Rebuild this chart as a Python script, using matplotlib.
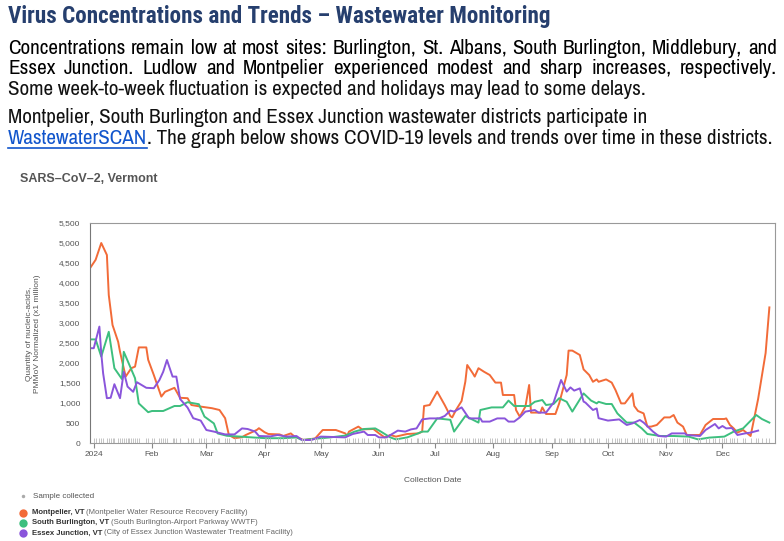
import numpy as np
import matplotlib
matplotlib.use('Agg')
import matplotlib.pyplot as plt
import matplotlib.dates as mdates
from matplotlib.ticker import FuncFormatter, MultipleLocator
from matplotlib.transforms import blended_transform_factory

plt.rcParams['font.family'] = ['Liberation Sans', 'DejaVu Sans']
NARROW = ['Archivo Narrow', 'Liberation Sans', 'DejaVu Sans']
HEAVY = ['Roboto Condensed', 'Archivo Narrow', 'DejaVu Sans']

# Samples: days since 2024-01-01 and concentration (PMMoV normalized, x1 million)
MONT_DAYS = [-2, 1, 4, 7, 8, 10, 13, 14, 17, 20,
             22, 24, 28, 29, 32, 36, 38, 43, 46, 50,
             52, 57, 63, 67, 70, 72, 75, 79, 81, 87,
             88, 91, 93, 99, 101, 105, 107, 112, 118, 122,
             129, 134, 135, 136, 141, 143, 149, 152, 155, 158,
             161, 167, 173, 175, 176, 179, 183, 187, 190, 191,
             193, 196, 198, 199, 202, 203, 205, 208, 211, 214,
             217, 218, 224, 225, 227, 230, 232, 233, 238, 239,
             241, 246, 248, 252, 253, 255, 259, 261, 264, 266,
             268, 269, 273, 276, 278, 281, 283, 287, 288, 290,
             293, 295, 297, 300, 304, 307, 309, 311, 314, 316,
             323, 326, 330, 336, 337, 339, 341, 343, 346, 350,
             354, 358, 360]
MONT_VALS = [4370, 4580, 5000, 4700, 3700, 2950, 2530, 2280, 1660, 1870,
             1910, 2390, 2390, 2080, 1700, 1160, 1280, 1380, 1130, 1120,
             950, 910, 870, 825, 620, 200, 120, 145, 200, 330,
             370, 270, 225, 215, 175, 240, 160, 75, 115, 325,
             325, 240, 175, 285, 410, 340, 350, 240, 140, 200,
             160, 225, 240, 285, 925, 950, 1285, 950, 675, 640,
             825, 1050, 1535, 1950, 1740, 1660, 1870, 1780, 1700, 1510,
             1510, 1200, 1200, 825, 660, 910, 1450, 760, 760, 890,
             725, 725, 990, 1700, 2310, 2310, 2200, 1840, 1700, 1530,
             1590, 1530, 1590, 1510, 1325, 990, 990, 1240, 925, 800,
             740, 410, 410, 450, 640, 640, 700, 510, 410, 200,
             200, 450, 600, 600, 615, 450, 365, 260, 325, 175,
             1100, 2250, 3390]

SBUR_DAYS = [-2, 1, 4, 8, 11, 15, 16, 19, 22, 24,
             29, 31, 37, 43, 46, 50, 56, 59, 64, 66,
             71, 78, 86, 92, 101, 108, 111, 119, 126, 134,
             139, 144, 150, 153, 158, 161, 167, 172, 175, 178,
             183, 188, 190, 192, 198, 205, 206, 212, 218, 221,
             224, 232, 235, 239, 241, 245, 248, 252, 255, 261,
             265, 268, 269, 273, 276, 279, 284, 288, 292, 295,
             302, 309, 317, 322, 328, 336, 341, 346, 353, 356,
             360]
SBUR_VALS = [2590, 2590, 2160, 2780, 1870, 1600, 2280, 1950, 1620, 990,
             770, 800, 800, 925, 925, 1020, 970, 660, 490, 240,
             180, 160, 135, 120, 120, 140, 75, 110, 140, 185,
             285, 350, 365, 285, 140, 90, 140, 225, 285, 285,
             615, 590, 580, 285, 675, 510, 825, 890, 890, 1060,
             925, 925, 1030, 1075, 950, 975, 1120, 1030, 785, 1240,
             1060, 990, 1030, 975, 975, 740, 510, 510, 365, 225,
             175, 175, 160, 90, 135, 160, 285, 365, 700, 600,
             510]

ESSX_DAYS = [-2, 0, 3, 4, 5, 7, 9, 11, 14, 16,
             18, 21, 23, 28, 32, 35, 37, 39, 42, 44,
             46, 50, 53, 57, 60, 64, 70, 75, 79, 82,
             86, 88, 94, 98, 103, 108, 111, 116, 121, 134,
             138, 144, 146, 150, 152, 156, 162, 166, 169, 172,
             175, 179, 184, 187, 190, 192, 196, 200, 206, 207,
             211, 215, 219, 221, 224, 227, 230, 235, 237, 241,
             245, 249, 252, 254, 256, 259, 261, 262, 266, 268,
             269, 274, 280, 284, 287, 291, 293, 298, 301, 305,
             308, 315, 316, 323, 326, 331, 333, 335, 337, 340,
             343, 347, 350, 354]
ESSX_VALS = [2370, 2370, 2910, 2240, 1740, 1120, 1130, 1470, 1120, 1780,
             1410, 1280, 1520, 1380, 1370, 1575, 1780, 2075, 1660, 1660,
             1100, 885, 620, 560, 325, 285, 215, 215, 365, 350,
             285, 175, 165, 200, 160, 175, 75, 75, 160, 140,
             225, 285, 200, 200, 140, 140, 310, 285, 340, 365,
             590, 615, 615, 675, 810, 785, 890, 615, 615, 535,
             535, 615, 615, 535, 535, 640, 785, 825, 760, 760,
             1010, 1575, 1285, 1390, 1310, 1365, 1035, 1010, 825, 865,
             620, 560, 590, 450, 490, 575, 510, 285, 175, 160,
             240, 240, 200, 175, 325, 475, 365, 425, 365, 375,
             200, 240, 260, 310]

SITES = ['Montpelier, VT', 'South Burlington, VT', 'Essex Junction, VT']
FACILITIES = ['(Montpelier Water Resource Recovery Facility)',
              '(South Burlington-Airport Parkway WWTF)',
              '(City of Essex Junction Wastewater Treatment Facility)']
COLORS = ['#F26B38', '#3DBF7E', '#8A55DB']

TITLE = 'Virus Concentrations and Trends \u2013 Wastewater Monitoring'
LINE1 = 'Concentrations remain low at most sites: Burlington, St. Albans, South Burlington, Middlebury,  and'
LINE2 = 'Essex Junction. Ludlow and Montpelier experienced modest and sharp increases, respectively.'
LINE3 = 'Some week-to-week fluctuation is expected and holidays may lead to some delays.'
LINE4 = 'Montpelier, South Burlington and Essex Junction wastewater districts participate in'
LINK = 'WastewaterSCAN'
LINE5 = '. The graph below shows COVID-19 levels and trends over time in these districts.'

START = np.datetime64('2024-01-01')


def to_dates(days):
    return START + np.array(days).astype('timedelta64[D]')


fig = plt.figure(figsize=(7.84, 5.41), dpi=100)
# pixel-coordinate canvas for the text blocks
canvas = fig.add_axes([0, 0, 1, 1])
canvas.set_xlim(0, 784)
canvas.set_ylim(541, 0)
canvas.axis('off')
renderer = fig.canvas.get_renderer()


def width_px(t):
    return t.get_window_extent(renderer).width


def fit_text(x, y, s, target, **kw):
    t = canvas.text(x, y, s, **kw)
    t.set_fontsize(t.get_fontsize() * target / width_px(t))
    return t


def justify(y, s, x0, x1, size, **kw):
    words = s.split()
    texts = [canvas.text(0, y, w, fontsize=size, **kw) for w in words]
    widths = [width_px(t) for t in texts]
    gap = (x1 - x0 - sum(widths)) / (len(words) - 1)
    x = x0
    for t, w in zip(texts, widths):
        t.set_x(x)
        x += w + gap


# heading block
fit_text(8, 23, TITLE, 542, family=HEAVY, fontweight='bold', color='#263F6E', fontsize=16)

link = canvas.text(8, 144, LINK, family=NARROW, fontsize=12, color='#1155CC')
rest = canvas.text(0, 144, LINE5, family=NARROW, fontsize=12, color='#111111')
scale = 764 / (width_px(link) + width_px(rest))
body = 12 * scale
link.set_fontsize(body)
rest.set_fontsize(body)
lw = width_px(link)
rest.set_x(8 + lw)
canvas.plot([8, 8 + lw], [148, 148], color='#1155CC', lw=1.2)

justify(54, LINE1, 8, 777, body, family=NARROW, color='#000000')
justify(74, LINE2, 8, 777, body, family=NARROW, color='#000000')
canvas.text(8, 95, LINE3, family=NARROW, fontsize=body, color='#111111')
canvas.text(8, 123, LINE4, family=NARROW, fontsize=body, color='#111111')

canvas.text(20, 179, 'SARS\u2013CoV\u20132, Vermont', fontsize=9, fontweight='bold',
            color='#555555', va='center')

# chart
ax = fig.add_axes([90 / 784, 98 / 541, 685 / 784, 220 / 541])
series = [(MONT_DAYS, MONT_VALS), (SBUR_DAYS, SBUR_VALS), (ESSX_DAYS, ESSX_VALS)]
for (days, vals), color in zip(series, COLORS):
    ax.plot(to_dates(days), vals, color=color, lw=1.4)

# sample-collected rug
all_days = np.union1d(np.union1d(MONT_DAYS, SBUR_DAYS), ESSX_DAYS)
rug = blended_transform_factory(ax.transData, ax.transAxes)
ax.vlines(to_dates(all_days), 0, 0.022, transform=rug, color='#c4c4c4', lw=0.7)

ax.set_xlim(np.datetime64('2023-12-30'), np.datetime64('2024-12-29'))
ax.set_ylim(0, 5500)
ax.yaxis.set_major_locator(MultipleLocator(500))
ax.yaxis.set_major_formatter(FuncFormatter(lambda v, p: f'{int(v):,}'))
ax.xaxis.set_major_locator(mdates.MonthLocator())
ax.xaxis.set_major_formatter(FuncFormatter(
    lambda v, p: '2024' if mdates.num2date(v).month == 1 else mdates.num2date(v).strftime('%b')))
ax.tick_params(axis='y', length=0, pad=7, labelsize=6, labelcolor='#555555')
ax.tick_params(axis='x', length=3.5, pad=2, labelsize=6, labelcolor='#555555', color='#888888')
for side in ax.spines.values():
    side.set_color('#999999')
    side.set_linewidth(0.8)
ax.spines['left'].set_color('#777777')

canvas.text(34, 334, 'Quantity of nucleic-acids,\nPMMoV Normalized (x1 million)', rotation=90,
            ha='center', va='center', fontsize=6, color='#555555', multialignment='center')
canvas.text(433, 480, 'Collection Date', ha='center', va='center', fontsize=6, color='#555555')

# legend
canvas.plot(23, 496, 'o', ms=2.5, color='#aaaaaa', mec='none')
canvas.text(33, 496, 'Sample collected', va='center', fontsize=5.8, color='#555555')
for i, (site, fac, color) in enumerate(zip(SITES, FACILITIES, COLORS)):
    y = 513 + 10 * i
    canvas.plot(23, y, 'o', ms=6, color=color, mec='none')
    name = canvas.text(32, y, site, va='center', fontsize=5.6, fontweight='bold', color='#333333')
    canvas.text(32 + width_px(name) + 2, y, fac, va='center', fontsize=5.6, color='#666666')

fig.savefig('out.png', dpi=100)
